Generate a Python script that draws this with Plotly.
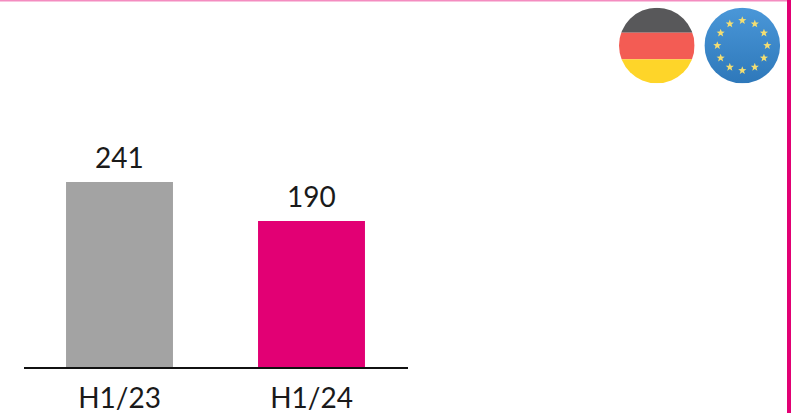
import base64
import math
import plotly.graph_objects as go

WIDTH, HEIGHT = 800, 413

periods = ["H1/23", "H1/24"]
values = [241, 190]
bar_colors = ["#a3a3a3", "#e20074"]

german_bands = ["#58585a", "#f35c54", "#fed529"]
eu_blue_top = "#4a97d8"
eu_blue_bottom = "#2e78ba"
eu_star = "#f3de72"


def px_x(x):
    return x / WIDTH


def px_y(y):
    return 1 - y / HEIGHT


def svg_uri(svg):
    return "data:image/svg+xml;base64," + base64.b64encode(svg.encode()).decode()


def star_points(cx, cy, outer, inner):
    pts = []
    for i in range(10):
        r = outer if i % 2 == 0 else inner
        a = -math.pi / 2 + i * math.pi / 5
        pts.append(f"{cx + r * math.cos(a):.2f},{cy + r * math.sin(a):.2f}")
    return " ".join(pts)


german_flag = f"""<svg xmlns="http://www.w3.org/2000/svg" viewBox="0 0 76 76" width="304" height="304">
<defs><clipPath id="c"><circle cx="38" cy="38" r="37.8"/></clipPath></defs>
<g clip-path="url(#c)">
<rect x="0" y="0" width="76" height="25.2" fill="{german_bands[0]}"/>
<rect x="0" y="25.2" width="76" height="26.6" fill="{german_bands[1]}"/>
<rect x="0" y="51.8" width="76" height="24.2" fill="{german_bands[2]}"/>
</g></svg>"""

stars = "".join(
    f'<polygon points="{star_points(38 + 25 * math.sin(i * math.pi / 6), 38 - 25 * math.cos(i * math.pi / 6), 4.3, 1.8)}" fill="{eu_star}"/>'
    for i in range(12)
)
eu_flag = f"""<svg xmlns="http://www.w3.org/2000/svg" viewBox="0 0 76 76" width="304" height="304">
<defs><linearGradient id="g" x1="0" y1="0" x2="0" y2="1">
<stop offset="0" stop-color="{eu_blue_top}"/><stop offset="1" stop-color="{eu_blue_bottom}"/>
</linearGradient></defs>
<circle cx="38" cy="38" r="37.8" fill="url(#g)"/>{stars}</svg>"""

text_font = dict(family="Lato, sans-serif", size=28, color="#1a1a1a")

fig = go.Figure(
    go.Bar(
        x=periods,
        y=values,
        marker=dict(color=bar_colors, line_width=0),
        width=0.557,
        hoverinfo="x+y",
    )
)

# Value labels sit a fixed distance above each bar
for period, value in zip(periods, values):
    fig.add_annotation(
        x=period,
        y=value,
        text=str(value),
        showarrow=False,
        yanchor="bottom",
        yshift=6,
        font=text_font,
    )

fig.update_layout(
    width=WIDTH,
    height=HEIGHT,
    margin=dict(l=0, r=0, t=0, b=0),
    paper_bgcolor="white",
    plot_bgcolor="white",
    showlegend=False,
    xaxis=dict(
        domain=[px_x(23.5), px_x(407.5)],
        type="category",
        range=[-0.5, 1.5],
        showline=True,
        linecolor="#111111",
        linewidth=2,
        showgrid=False,
        ticks="",
        tickfont=text_font,
        ticklabelstandoff=5,
        automargin=False,
        fixedrange=True,
    ),
    yaxis=dict(
        domain=[px_y(367), 1],
        range=[0, 367 / 0.768],
        visible=False,
        fixedrange=True,
    ),
    shapes=[
        # Page frame: thin top rule and heavy right rule
        dict(type="rect", xref="paper", yref="paper", x0=0, x1=px_x(787), y0=px_y(1.5), y1=1,
             fillcolor="#f48cc0", line_width=0, layer="above"),
        dict(type="rect", xref="paper", yref="paper", x0=px_x(787), x1=px_x(791), y0=0, y1=1,
             fillcolor="#e20074", line_width=0, layer="above"),
    ],
    images=[
        dict(source=svg_uri(german_flag), xref="paper", yref="paper",
             x=px_x(656.8 - 38), y=px_y(45.5 - 38), sizex=76 / WIDTH, sizey=76 / HEIGHT,
             xanchor="left", yanchor="top", sizing="stretch", layer="above"),
        dict(source=svg_uri(eu_flag), xref="paper", yref="paper",
             x=px_x(742.3 - 38), y=px_y(45.5 - 38), sizex=76 / WIDTH, sizey=76 / HEIGHT,
             xanchor="left", yanchor="top", sizing="stretch", layer="above"),
    ],
)

fig.write_html("out.html", config=dict(displayModeBar=False))
